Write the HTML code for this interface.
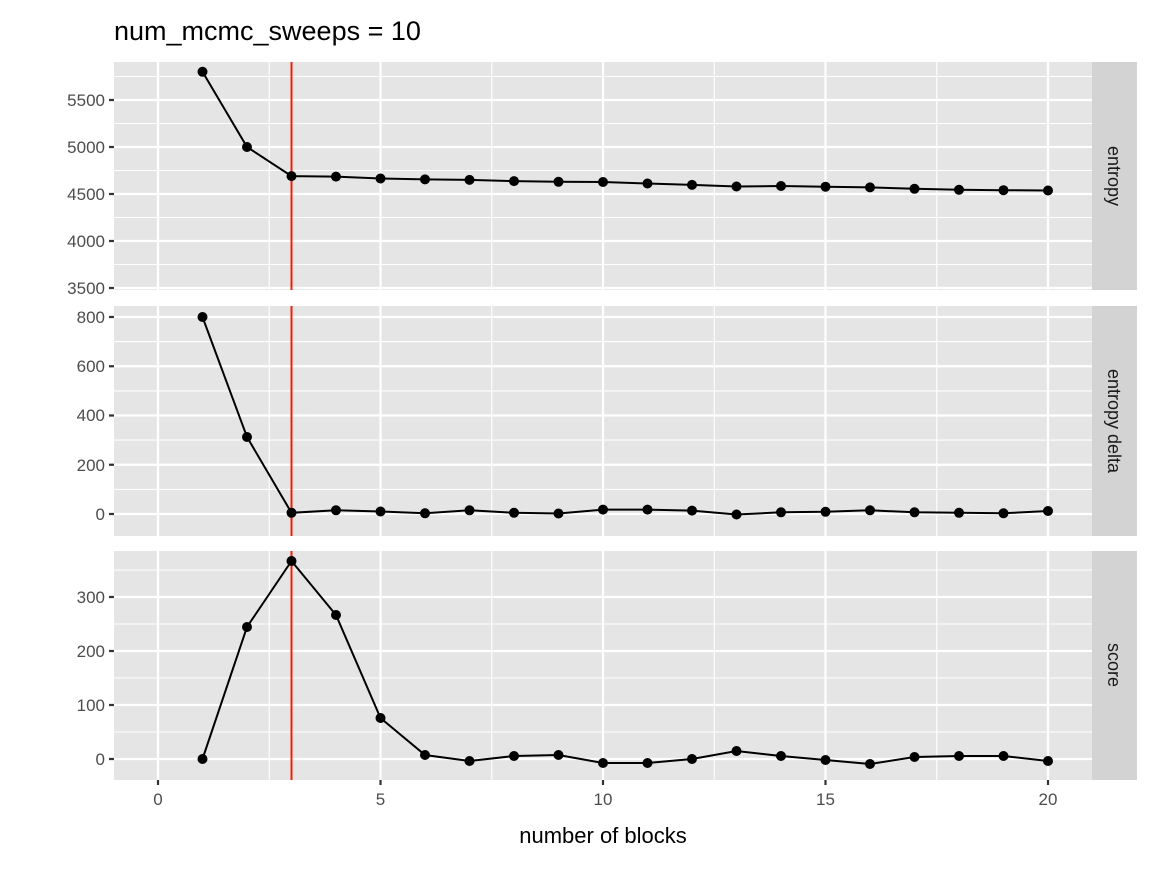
<!DOCTYPE html>
<html><head><meta charset="utf-8"><style>
html,body{margin:0;padding:0;background:#fff}
svg text{font-family:"Liberation Sans",Arial,sans-serif}
</style></head><body>
<svg width="1152" height="865" xmlns="http://www.w3.org/2000/svg">
<rect width="1152" height="865" fill="#fff"/>
<text x="114" y="40" font-size="27" fill="#000">num_mcmc_sweeps = 10</text>
<g>
<rect x="114" y="62" width="978" height="228" fill="#e5e5e5"/>
<rect x="114" y="306" width="978" height="230" fill="#e5e5e5"/>
<rect x="114" y="551" width="978" height="229" fill="#e5e5e5"/>
<rect x="1092" y="62" width="45" height="228" fill="#d3d3d3"/>
<rect x="1092" y="306" width="45" height="230" fill="#d3d3d3"/>
<rect x="1092" y="551" width="45" height="229" fill="#d3d3d3"/>
<g font-size="18" fill="#1a1a1a" text-anchor="middle">
<text transform="translate(1108,176) rotate(90)">entropy</text>
<text transform="translate(1108,421) rotate(90)">entropy delta</text>
<text transform="translate(1108,665) rotate(90)">score</text>
</g>
</g>
<g stroke="#fff" stroke-width="1.1">
<path d="M114 76.5H1092M114 123.5H1092M114 170.5H1092M114 217.5H1092M114 264.5H1092"/>
<path d="M114 341.6H1092M114 390.9H1092M114 440.1H1092M114 489.4H1092"/>
<path d="M114 570H1092M114 624H1092M114 678H1092M114 732H1092"/>
<path d="M269.25 62V290M491.75 62V290M714.25 62V290M936.75 62V290"/>
<path d="M269.25 306V536M491.75 306V536M714.25 306V536M936.75 306V536"/>
<path d="M269.25 551V780M491.75 551V780M714.25 551V780M936.75 551V780"/>
</g>
<g stroke="#fff" stroke-width="2.2">
<path d="M114 100H1092M114 147H1092M114 194H1092M114 241H1092M114 288H1092"/>
<path d="M114 317H1092M114 366.25H1092M114 415.5H1092M114 464.75H1092M114 514H1092"/>
<path d="M114 597H1092M114 651H1092M114 705H1092M114 759H1092"/>
<path d="M158 62V290M380.5 62V290M603 62V290M825.5 62V290M1048 62V290"/>
<path d="M158 306V536M380.5 306V536M603 306V536M825.5 306V536M1048 306V536"/>
<path d="M158 551V780M380.5 551V780M603 551V780M825.5 551V780M1048 551V780"/>
</g>
<g stroke="#333" stroke-width="2.2">
<path d="M109 100H114M109 147H114M109 194H114M109 241H114M109 288H114"/>
<path d="M109 317H114M109 366.25H114M109 415.5H114M109 464.75H114M109 514H114"/>
<path d="M109 597H114M109 651H114M109 705H114M109 759H114"/>
<path d="M158 780V785M380.5 780V785M603 780V785M825.5 780V785M1048 780V785"/>
</g>
<g font-size="17" fill="#4d4d4d" text-anchor="end">
<text x="105" y="106">5500</text><text x="105" y="153">5000</text><text x="105" y="200">4500</text><text x="105" y="247">4000</text><text x="105" y="294">3500</text>
<text x="105" y="323">800</text><text x="105" y="372">600</text><text x="105" y="421">400</text><text x="105" y="471">200</text><text x="105" y="520">0</text>
<text x="105" y="603">300</text><text x="105" y="657">200</text><text x="105" y="711">100</text><text x="105" y="765">0</text>
</g>
<g font-size="17" fill="#4d4d4d" text-anchor="middle">
<text x="158" y="805">0</text><text x="380.5" y="805">5</text><text x="603" y="805">10</text><text x="825.5" y="805">15</text><text x="1048" y="805">20</text>
</g>
<text x="603" y="843" font-size="22" fill="#000" text-anchor="middle">number of blocks</text>
<g stroke="#f0200a" stroke-width="2">
<path d="M291.5 62V290M291.5 306V536M291.5 551V780"/>
</g>
<g fill="none" stroke="#000" stroke-width="2">
<polyline points="202.5,71.8 247,147 291.5,176.1 336,176.6 380.5,178.5 425,179.4 469.5,179.9 514,181.1 558.5,181.8 603,182 647.5,183.5 692,184.9 736.5,186.5 781,186 825.5,186.7 870,187.4 914.5,188.8 959,189.8 1003.5,190.2 1048,190.5"/>
<polyline points="202.5,317 247,437 291.5,512.8 336,510.3 380.5,511.5 425,513.3 469.5,510.3 514,512.8 558.5,513.5 603,509.6 647.5,509.6 692,510.6 736.5,514.5 781,512.3 825.5,511.8 870,510.3 914.5,512.3 959,512.8 1003.5,513.3 1048,511"/>
<polyline points="202.5,759 247,627 291.5,561 336,615 380.5,718 425,755 469.5,761 514,756 558.5,755 603,763 647.5,763 692,759 736.5,751 781,756 825.5,760 870,764 914.5,757 959,756 1003.5,756 1048,761"/>
</g>
<g fill="#000">
<circle cx="202.5" cy="71.8" r="5"/><circle cx="247" cy="147" r="5"/><circle cx="291.5" cy="176.1" r="5"/><circle cx="336" cy="176.6" r="5"/><circle cx="380.5" cy="178.5" r="5"/><circle cx="425" cy="179.4" r="5"/><circle cx="469.5" cy="179.9" r="5"/><circle cx="514" cy="181.1" r="5"/><circle cx="558.5" cy="181.8" r="5"/><circle cx="603" cy="182" r="5"/><circle cx="647.5" cy="183.5" r="5"/><circle cx="692" cy="184.9" r="5"/><circle cx="736.5" cy="186.5" r="5"/><circle cx="781" cy="186" r="5"/><circle cx="825.5" cy="186.7" r="5"/><circle cx="870" cy="187.4" r="5"/><circle cx="914.5" cy="188.8" r="5"/><circle cx="959" cy="189.8" r="5"/><circle cx="1003.5" cy="190.2" r="5"/><circle cx="1048" cy="190.5" r="5"/>
<circle cx="202.5" cy="317" r="5"/><circle cx="247" cy="437" r="5"/><circle cx="291.5" cy="512.8" r="5"/><circle cx="336" cy="510.3" r="5"/><circle cx="380.5" cy="511.5" r="5"/><circle cx="425" cy="513.3" r="5"/><circle cx="469.5" cy="510.3" r="5"/><circle cx="514" cy="512.8" r="5"/><circle cx="558.5" cy="513.5" r="5"/><circle cx="603" cy="509.6" r="5"/><circle cx="647.5" cy="509.6" r="5"/><circle cx="692" cy="510.6" r="5"/><circle cx="736.5" cy="514.5" r="5"/><circle cx="781" cy="512.3" r="5"/><circle cx="825.5" cy="511.8" r="5"/><circle cx="870" cy="510.3" r="5"/><circle cx="914.5" cy="512.3" r="5"/><circle cx="959" cy="512.8" r="5"/><circle cx="1003.5" cy="513.3" r="5"/><circle cx="1048" cy="511" r="5"/>
<circle cx="202.5" cy="759" r="5"/><circle cx="247" cy="627" r="5"/><circle cx="291.5" cy="561" r="5"/><circle cx="336" cy="615" r="5"/><circle cx="380.5" cy="718" r="5"/><circle cx="425" cy="755" r="5"/><circle cx="469.5" cy="761" r="5"/><circle cx="514" cy="756" r="5"/><circle cx="558.5" cy="755" r="5"/><circle cx="603" cy="763" r="5"/><circle cx="647.5" cy="763" r="5"/><circle cx="692" cy="759" r="5"/><circle cx="736.5" cy="751" r="5"/><circle cx="781" cy="756" r="5"/><circle cx="825.5" cy="760" r="5"/><circle cx="870" cy="764" r="5"/><circle cx="914.5" cy="757" r="5"/><circle cx="959" cy="756" r="5"/><circle cx="1003.5" cy="756" r="5"/><circle cx="1048" cy="761" r="5"/>
</g>
</svg>
</body></html>
